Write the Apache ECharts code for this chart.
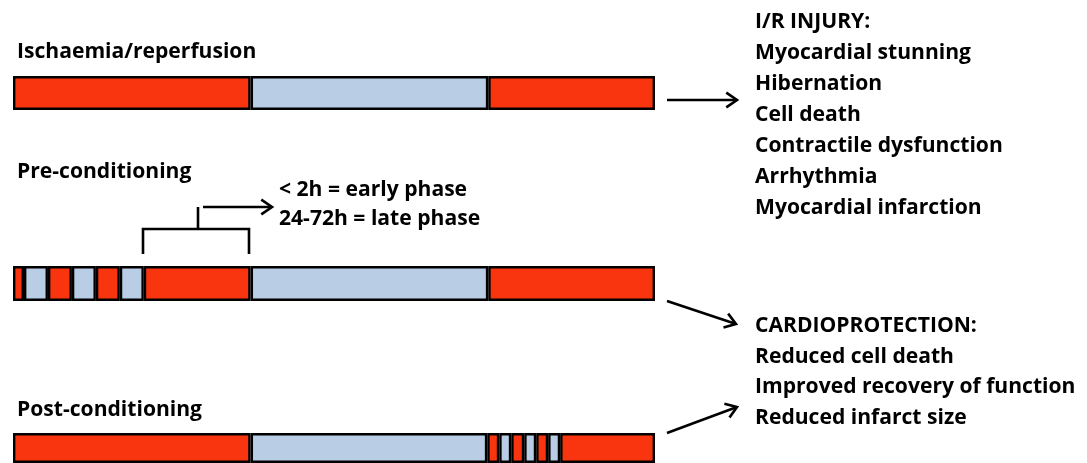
<!DOCTYPE html>
<html><head><meta charset="utf-8">
<script src="https://cdn.jsdelivr.net/npm/echarts@6/dist/echarts.min.js"></script>
<style>html,body{margin:0;padding:0;background:#fff}#c{width:1087px;height:463px}</style>
</head><body><div id="c"></div>
<script>
// Protocol rows (segment durations in arbitrary time units)
const rowNames = ['Ischaemia/reperfusion', 'Pre-conditioning', 'Post-conditioning'];
const ischaemiaSegments = [238, 238, 167];
const ischaemiaPhases = ['R', 'I', 'R'];
const preSegments = [11, 24, 24, 24, 24, 24, 107, 238, 167];
const prePhases = ['R', 'I', 'R', 'I', 'R', 'I', 'R', 'I', 'R'];
const postSegments = [238, 237, 12, 12, 13, 12, 12, 12, 95];
const postPhases = ['R', 'I', 'R', 'I', 'R', 'I', 'R', 'I', 'R'];
const injuryLines = ['I/R INJURY:', 'Myocardial stunning', 'Hibernation', 'Cell death', 'Contractile dysfunction', 'Arrhythmia', 'Myocardial infarction'];
const protectionLines = ['CARDIOPROTECTION:', 'Reduced cell death', 'Improved recovery of function', 'Reduced infarct size'];
const phaseNotes = ['< 2h = early phase', '24-72h = late phase'];

const RED = '#F9350F', BLUE = '#B9CDE4';
const FONT = '"Open Sans"';
const FS = 21.1;
const rows = [
  {seg: ischaemiaSegments, ph: ischaemiaPhases, top: 76, h: 34},
  {seg: preSegments, ph: prePhases, top: 266, h: 35},
  {seg: postSegments, ph: postPhases, top: 433, h: 36}
];
const total = ischaemiaSegments.reduce((a, b) => a + b, 0);

const grids = [], xAxes = [], yAxes = [], series = [];
rows.forEach((r, ri) => {
  grids.push({left: 13, width: 642, top: r.top, height: r.h});
  xAxes.push({type: 'value', gridIndex: ri, min: 0, max: total, show: false});
  yAxes.push({type: 'category', gridIndex: ri, data: [rowNames[ri]], show: false});
  r.seg.forEach((v, si) => {
    series.push({
      type: 'bar', xAxisIndex: ri, yAxisIndex: ri, stack: 'row' + ri,
      barWidth: '100%', data: [v], silent: true, animation: false,
      itemStyle: {color: r.ph[si] === 'R' ? RED : BLUE, borderColor: '#000', borderWidth: 2.4}
    });
  });
});

function txt(x, y, s, size) {
  return {type: 'text', x: x, y: y, style: {text: s, fill: '#000', font: 'bold ' + size + 'px ' + FONT, verticalAlign: 'middle', align: 'left'}};
}
function arrow(x1, y1, x2, y2) {
  const a = Math.atan2(y2 - y1, x2 - x1), L = 13, w = 0.6;
  const p1 = [x2 - L * Math.cos(a - w), y2 - L * Math.sin(a - w)];
  const p2 = [x2 - L * Math.cos(a + w), y2 - L * Math.sin(a + w)];
  const st = {stroke: '#000', lineWidth: 2.6, fill: null, lineCap: 'butt', lineJoin: 'miter'};
  return [
    {type: 'line', shape: {x1: x1, y1: y1, x2: x2 - 1.5 * Math.cos(a), y2: y2 - 1.5 * Math.sin(a)}, style: st},
    {type: 'polyline', shape: {points: [p1, [x2, y2], p2]}, style: st}
  ];
}
const g = [];
g.push(txt(17, 52, rowNames[0], FS));
g.push(txt(17, 172, rowNames[1], FS));
g.push(txt(17, 410, rowNames[2], FS));
g.push(txt(279, 190, phaseNotes[0], FS));
g.push(txt(279, 219, phaseNotes[1], FS));
injuryLines.forEach((s, i) => g.push(txt(755, 22 + i * 31, s, FS)));
protectionLines.forEach((s, i) => g.push(txt(755, 326 + i * 30.7, s, FS)));
// bracket
const bst = {stroke: '#000', lineWidth: 2.6, fill: null};
g.push({type: 'polyline', shape: {points: [[143, 254], [143, 229], [249, 229], [249, 254]]}, style: bst});
g.push({type: 'line', shape: {x1: 198, y1: 207, x2: 198, y2: 229}, style: bst});
g.push(...arrow(203, 207, 272, 207));
g.push(...arrow(667, 100, 737, 100));
g.push(...arrow(667, 301, 736, 324));
g.push(...arrow(667, 433, 737, 407));

const chart = echarts.init(document.getElementById('c'), null, {renderer: 'canvas'});
chart.setOption({
  animation: false,
  backgroundColor: '#fff',
  grid: grids, xAxis: xAxes, yAxis: yAxes, series: series,
  graphic: g
});
</script></body></html>
